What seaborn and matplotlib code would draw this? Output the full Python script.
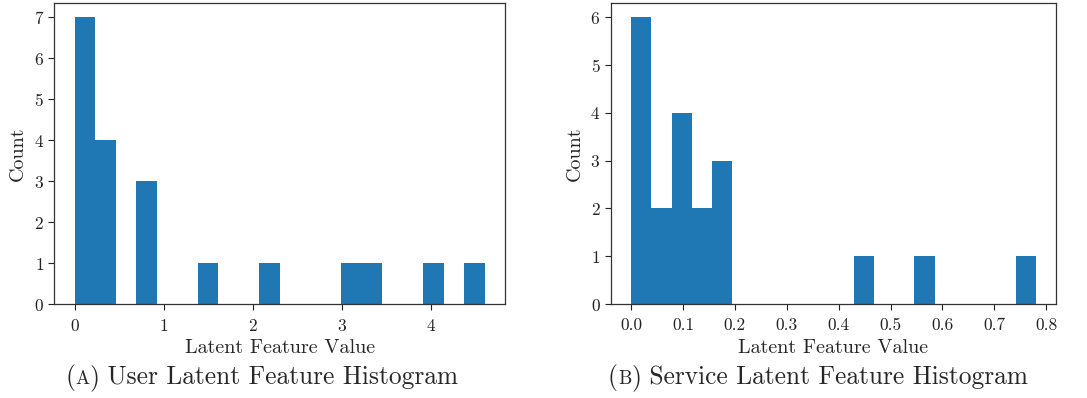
import numpy as np
import pandas as pd
import matplotlib
matplotlib.use("Agg")
import matplotlib.pyplot as plt
import seaborn as sns

# ---- data (20 equal bins per panel) ----
user_counts = [7, 4, 0, 3, 0, 0, 1, 0, 0, 1, 0, 0, 0, 1, 1, 0, 0, 1, 0, 1]
user_range = (0.0, 4.61)
service_counts = [6, 2, 4, 2, 3, 0, 0, 0, 0, 0, 0, 1, 0, 0, 1, 0, 0, 0, 0, 1]
service_range = (0.0, 0.78)
user_xticks = [0, 1, 2, 3, 4]
service_xticks = [0.0, 0.1, 0.2, 0.3, 0.4, 0.5, 0.6, 0.7, 0.8]
x_label = "Latent Feature Value"
y_label = "Count"
captions = [("A", " User Latent Feature Histogram"),
            ("B", " Service Latent Feature Histogram")]

sns.set_style("ticks")
plt.rcParams["font.family"] = ["cmr10", "DejaVu Serif"]
plt.rcParams["axes.formatter.use_mathtext"] = True
plt.rcParams["mathtext.fontset"] = "cm"
plt.rcParams["axes.edgecolor"] = "#333333"
plt.rcParams["axes.linewidth"] = 0.9

fig = plt.figure(figsize=(10.87, 3.98), dpi=100)
ax1 = fig.add_axes([0.050, 0.236, 0.415, 0.757])
ax2 = fig.add_axes([0.562, 0.236, 0.4095, 0.757])

def draw(ax, counts, rng, xticks):
    n = len(counts)
    edges = np.linspace(rng[0], rng[1], n + 1)
    centers = (edges[:-1] + edges[1:]) / 2
    df = pd.DataFrame({"value": centers, "count": counts})
    sns.histplot(data=df, x="value", weights="count", bins=n, binrange=rng,
                 ax=ax, color="#1f77b4", alpha=1.0, linewidth=0, edgecolor="none")
    ax.set_xticks(xticks)
    ax.set_xlabel(x_label, fontsize=14.5, labelpad=4)
    ax.set_ylabel(y_label, fontsize=14.5, labelpad=5)
    ax.tick_params(axis="both", labelsize=12.5, direction="out", length=4,
                   width=0.8, colors="#222222")
    ax.tick_params(axis="x", pad=6)
    ax.margins(x=0.05, y=0.05)
    for s in ax.spines.values():
        s.set_visible(True)

draw(ax1, user_counts, user_range, user_xticks)
draw(ax2, service_counts, service_range, service_xticks)
ax2.xaxis.set_major_formatter(matplotlib.ticker.FormatStrFormatter("%.1f"))

def caption(x, y, letter, rest, size=18.3):
    t1 = fig.text(x, y, "(", fontsize=size, ha="left", va="baseline")
    t2 = fig.text(0, 0, letter, fontsize=size * 0.74, ha="left", va="baseline")
    t3 = fig.text(0, 0, ")", fontsize=size, ha="left", va="baseline")
    t4 = fig.text(0, 0, rest, fontsize=size, ha="left", va="baseline")
    fig.canvas.draw()
    r = fig.canvas.get_renderer()
    prev = t1
    for t in (t2, t3, t4):
        bb = prev.get_window_extent(r)
        xr = bb.x1 / fig.bbox.width
        t.set_position((xr, y))
        prev = t

caption(65 / 1087, 1 - 384 / 398, *captions[0])
caption(608 / 1087, 1 - 384 / 398, *captions[1])

fig.savefig("out.png", dpi=100)
